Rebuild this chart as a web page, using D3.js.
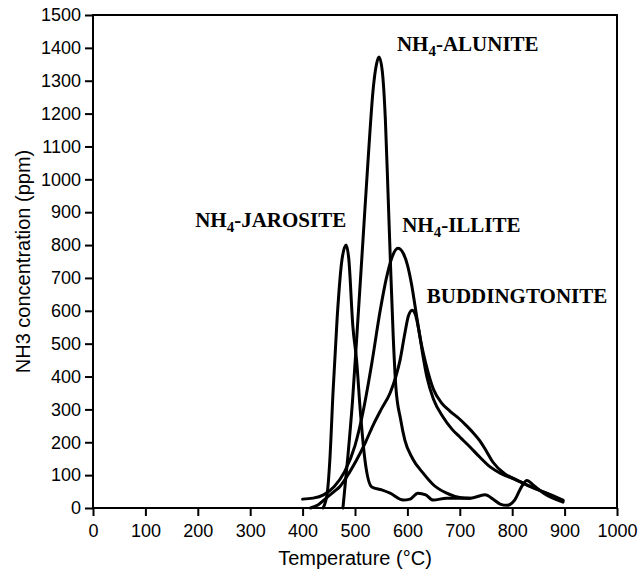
<!DOCTYPE html>
<html>
<head>
<meta charset="utf-8">
<script src="https://cdn.jsdelivr.net/npm/d3@7"></script>
<style>
  body { margin: 0; background: #fff; }
  .axis text { font-family: "Liberation Sans", Arial, sans-serif; font-size: 18px; fill: #000; }
  .axis path, .axis line { stroke: #000; stroke-width: 2; }
  .title { font-family: "Liberation Sans", Arial, sans-serif; font-size: 20px; fill: #000; }
  .label { font-family: "Liberation Serif", "Times New Roman", serif; font-weight: bold; font-size: 21px; fill: #000; }
  .curve { fill: none; stroke: #000; stroke-width: 3; stroke-linejoin: round; stroke-linecap: round; }
</style>
</head>
<body>
<svg width="640" height="570"></svg>
<script>
// temperature (°C), NH3 (ppm)
const jarosite = [
  [439, 0], [447, 45], [452, 146], [458, 350], [466, 580], [475, 754], [483, 800],
  [488, 760], [496, 551], [503, 450], [510, 298], [519, 146], [532, 64], [551, 55],
  [567, 45], [592, 24], [605, 27], [620, 45], [635, 40], [649, 24], [675, 30],
  [700, 30], [720, 30], [748, 40], [765, 25], [777, 12], [790, 8], [805, 25],
  [818, 65], [828, 84], [840, 70], [860, 45], [897, 18]
];

const alunite = [
  [477, 0], [486, 150], [495, 320], [505, 560], [515, 810], [525, 1060],
  [535, 1280], [541, 1350], [546, 1372], [552, 1330], [558, 1180], [563, 960],
  [568, 730], [573, 520], [578, 368], [587, 270], [595, 207], [610, 150],
  [630, 106], [650, 70], [675, 45], [700, 32], [720, 30]
];

const illite = [
  [400, 27], [420, 30], [440, 40], [460, 65], [480, 110], [500, 190], [515, 290],
  [532, 440], [548, 600], [560, 700], [570, 760], [582, 790], [592, 775], [600, 740],
  [608, 680], [616, 600], [624, 520], [635, 440], [650, 360], [665, 320], [681, 295],
  [700, 270], [713, 250], [725, 230], [738, 205], [750, 175], [763, 140], [785, 105],
  [809, 85], [830, 68], [853, 53], [875, 38], [897, 22]
];

const buddingtonite = [
  [415, 0], [430, 10], [445, 30], [460, 50], [471, 65], [490, 110], [503, 146],
  [520, 200], [534, 250], [550, 300], [567, 350], [578, 400], [586, 450], [595, 530],
  [602, 585], [609, 602], [615, 590], [622, 540], [630, 460], [637, 400], [650, 330],
  [668, 277], [685, 240], [700, 216], [720, 185], [738, 155], [758, 125], [777, 106],
  [800, 90], [821, 76], [845, 58], [866, 45], [897, 24]
];

const xTicks = d3.range(0, 1001, 100);
const yTicks = d3.range(0, 1501, 100);

// curve labels, anchored at (temperature, ppm) of their left baseline
const labels = [
  { t: 195, c: 855, pre: "NH", sub: "4", post: "-JAROSITE" },
  { t: 580, c: 1390, pre: "NH", sub: "4", post: "-ALUNITE" },
  { t: 590, c: 840, pre: "NH", sub: "4", post: "-ILLITE" },
  { t: 637, c: 624, pre: "", sub: "", post: "BUDDINGTONITE" }
];

const svg = d3.select("svg");
const margin = { left: 93, right: 23, top: 15, bottom: 62 };
const width = 640 - margin.left - margin.right;
const height = 570 - margin.top - margin.bottom;

const x = d3.scaleLinear().domain([0, 1000]).range([0, width]);
const y = d3.scaleLinear().domain([0, 1500]).range([height, 0]);

const g = svg.append("g").attr("transform", `translate(${margin.left},${margin.top})`);

// frame
g.append("rect")
  .attr("width", width).attr("height", height)
  .attr("fill", "none").attr("stroke", "#000").attr("stroke-width", 2);

g.append("g")
  .attr("class", "axis")
  .attr("transform", `translate(0,${height})`)
  .call(d3.axisBottom(x).tickValues(xTicks).tickFormat(d3.format("d"))
    .tickSizeOuter(0).tickSize(8).tickPadding(8))
  .call(a => a.select(".domain").remove());

g.append("g")
  .attr("class", "axis")
  .call(d3.axisLeft(y).tickValues(yTicks).tickFormat(d3.format("d"))
    .tickSizeOuter(0).tickSize(8).tickPadding(4))
  .call(a => a.select(".domain").remove());

svg.append("text")
  .attr("class", "title")
  .attr("x", margin.left + x(500))
  .attr("y", 565)
  .attr("text-anchor", "middle")
  .text("Temperature (°C)");

svg.append("text")
  .attr("class", "title")
  .attr("transform", `translate(30,${margin.top + y(750)}) rotate(-90)`)
  .attr("text-anchor", "middle")
  .text("NH3 concentration (ppm)");

const line = d3.line()
  .curve(d3.curveMonotoneX)
  .x(d => x(d[0]))
  .y(d => y(d[1]));

g.selectAll("path.curve")
  .data([jarosite, alunite, illite, buddingtonite])
  .join("path")
  .attr("class", "curve")
  .attr("d", line);

labels.forEach(l => {
  const t = g.append("text")
    .attr("class", "label")
    .attr("x", x(l.t))
    .attr("y", y(l.c));
  if (l.pre) {
    t.append("tspan").text(l.pre);
    t.append("tspan").attr("font-size", 15).attr("dy", 5).text(l.sub);
    t.append("tspan").attr("dy", -5).text(l.post);
  } else {
    t.text(l.post);
  }
});
</script>
</body>
</html>
